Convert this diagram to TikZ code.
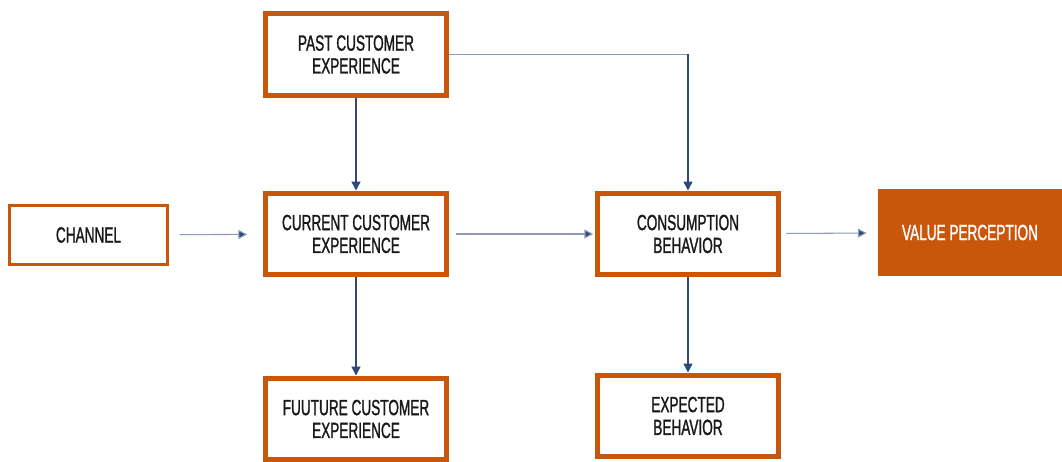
\documentclass[tikz,border=0pt]{standalone}
\usepackage{fontspec}
\setmainfont[FakeStretch=0.62, FakeBold=1.2]{Liberation Sans}
\usetikzlibrary{arrows.meta}
\definecolor{rust}{RGB}{200,87,12}
\definecolor{navy}{RGB}{47,72,122}
\definecolor{ink}{RGB}{25,25,25}

\begin{document}
\begin{tikzpicture}[
  x=0.02cm, y=-0.02cm,
  box/.style={rectangle, draw=rust, line width=#1, fill=white, text=ink,
              minimum width=3.62cm, minimum height=1.64cm, align=center,
              font=\fontsize{12.5}{13}\selectfont},
  box/.default={0.1cm},
  arr/.style={-{Triangle[length=5pt,width=5pt]}, navy, line width=0.8pt},
  arrh/.style={arr, draw=navy!55, -{Triangle[length=5pt,width=5pt,fill=navy]}, line width=0.6pt}
]
  \useasboundingbox (0,0) rectangle (1062,462);

  % Boxes
  \node[box] (past) at (356,54.5) {PAST CUSTOMER\\EXPERIENCE};
  \node[box=0.06cm, minimum width=3.16cm, minimum height=1.18cm] (chan) at (88.5,235) {CHANNEL};
  \node[box] (cur) at (356,234) {CURRENT CUSTOMER\\EXPERIENCE};
  \node[box] (fut) at (356,419) {FUUTURE CUSTOMER\\EXPERIENCE};
  \node[box] (cons) at (688,234) {CONSUMPTION\\BEHAVIOR};
  \node[box] (exp) at (688,416) {EXPECTED\\BEHAVIOR};
  \node[box, draw=none, fill=rust, text=white, minimum width=3.68cm,
        minimum height=1.74cm] (val) at (970,232.5) {VALUE PERCEPTION};

  % Links
  \draw[arrh, shorten <=6pt, shorten >=9pt] (chan) -- (cur);
  \draw[arrh, shorten <=4pt, shorten >=1pt] (cur) -- (cons);
  \draw[arrh, shorten <=3pt, shorten >=5pt] (cons) -- (val);
  \draw[arr] (past) -- (cur);
  \draw[arr] (cur) -- (fut);
  \draw[arr] (cons) -- (exp);
  \draw[arrh, -] (past.east) -- (cons.north |- past.east) coordinate (bend);
  \draw[arr] (bend) -- (cons);
\end{tikzpicture}
\end{document}
